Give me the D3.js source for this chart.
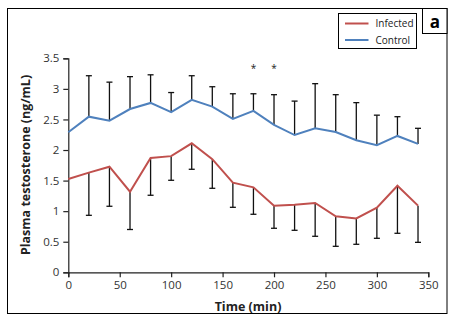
<!DOCTYPE html>
<html><head><meta charset="utf-8">
<script src="https://cdn.jsdelivr.net/npm/d3@7"></script>
<style>html,body{margin:0;padding:0;background:#fff;}svg{display:block;}</style>
</head><body>
<svg id="chart" width="454" height="319"></svg>
<script>
const times = [0,20,40,60,80,100,120,140,160,180,200,220,240,260,280,300,320,340];
const controlMean = [2.29,2.545,2.48,2.67,2.77,2.62,2.82,2.71,2.51,2.64,2.41,2.245,2.355,2.295,2.16,2.08,2.23,2.10];
const controlUpper = [null,3.215,3.11,3.2,3.23,2.94,3.215,3.035,2.92,2.92,2.905,2.80,3.085,2.905,2.775,2.57,2.545,2.355];
const infectedMean = [1.526,1.63,1.727,1.318,1.87,1.90,2.11,1.85,1.466,1.39,1.09,1.106,1.133,0.915,0.88,1.057,1.416,1.09];
const infectedLower = [null,0.932,1.08,0.70,1.26,1.505,1.685,1.374,1.063,0.949,0.72,0.687,0.589,0.425,0.458,0.556,0.638,0.49];
const sigTimes = [180,200];
const xTicks = [0,50,100,150,200,250,300,350];
const yTicks = [0,0.5,1,1.5,2,2.5,3,3.5];
const seriesNames = ["Infected","Control"];
const colors = {Infected:"#C0504D", Control:"#4F81BD"};

const svg = d3.select("#chart");
const font = "'Open Sans', 'Noto Sans', sans-serif";
const x = d3.scaleLinear().domain([0,350]).range([68.3,428.3]);
const y = d3.scaleLinear().domain([0,3.5]).range([272.3,58.3]);

// outer frame
svg.append("rect").attr("x",7.5).attr("y",8.5).attr("width",439.5).attr("height",305)
  .attr("fill","none").attr("stroke","#000").attr("stroke-width",1);
// panel label box
svg.append("rect").attr("x",422.5).attr("y",8.5).attr("width",24.5).attr("height",25)
  .attr("fill","#fff").attr("stroke","#000").attr("stroke-width",1);
svg.append("text").attr("x",434.8).attr("y",27.5).attr("text-anchor","middle")
  .attr("font-family",font).attr("font-weight","bold").attr("font-size",17).text("a");

// axes
const gx = svg.append("g").attr("transform",`translate(0,${y(0)})`)
  .call(d3.axisBottom(x).tickValues(xTicks).tickSize(5).tickPadding(4).tickFormat(d3.format("d")));
const gy = svg.append("g").attr("transform",`translate(${x(0)},0)`)
  .call(d3.axisLeft(y).tickValues(yTicks).tickSize(5).tickPadding(4).tickFormat(d=>String(d)));
[gx,gy].forEach(g=>{
  g.selectAll("path").attr("stroke","#222").attr("stroke-width",1.2);
  g.selectAll("line").attr("stroke","#222").attr("stroke-width",1.2);
  g.selectAll("text").attr("font-family",font).attr("font-size",11.5).attr("fill","#333");
});

// error bars
const cap = 3;
const ctrlData = times.map((t,i)=>({t, m:controlMean[i], e:controlUpper[i]}));
const infData = times.map((t,i)=>({t, m:infectedMean[i], e:infectedLower[i]}));
const eg = svg.append("g").attr("stroke","#111").attr("stroke-width",1.3);
[ctrlData, infData].forEach(data=>{
  data.filter(d=>d.e!=null).forEach(d=>{
    eg.append("line").attr("x1",x(d.t)).attr("x2",x(d.t)).attr("y1",y(d.m)).attr("y2",y(d.e));
    eg.append("line").attr("x1",x(d.t)-cap).attr("x2",x(d.t)+cap).attr("y1",y(d.e)).attr("y2",y(d.e));
  });
});

// lines
const line = d3.line().x(d=>x(d.t)).y(d=>y(d.m));
svg.append("path").datum(ctrlData).attr("d",line).attr("fill","none")
  .attr("stroke",colors.Control).attr("stroke-width",2);
svg.append("path").datum(infData).attr("d",line).attr("fill","none")
  .attr("stroke",colors.Infected).attr("stroke-width",2);

// significance asterisks
svg.selectAll(".sig").data(sigTimes).enter().append("text")
  .attr("x",d=>x(d)).attr("y",y(3.35)+5).attr("text-anchor","middle")
  .attr("font-family",font).attr("font-size",10).attr("fill","#222").text("*");

// axis titles
svg.append("text").attr("x",248).attr("y",311).attr("text-anchor","middle")
  .attr("font-family",font).attr("font-weight","bold").attr("font-size",12.5).attr("fill","#222").text("Time (min)");
svg.append("text").attr("transform","translate(29.5,165) rotate(-90)").attr("text-anchor","middle")
  .attr("font-family",font).attr("font-weight","bold").attr("font-size",12.5).attr("fill","#222")
  .text("Plasma testosterone (ng/mL)");

// legend
svg.append("rect").attr("x",338.5).attr("y",13.5).attr("width",78).attr("height",35)
  .attr("fill","#fff").attr("stroke","#000").attr("stroke-width",1);
seriesNames.forEach((n,i)=>{
  const yy = 23.5 + i*16.5;
  svg.append("line").attr("x1",345).attr("x2",368.5).attr("y1",yy).attr("y2",yy)
    .attr("stroke",colors[n]).attr("stroke-width",2);
  svg.append("text").attr("x",375.5).attr("y",yy+3.5).attr("font-family",font)
    .attr("font-size",10).attr("fill","#222").text(n);
});
</script>
</body></html>
